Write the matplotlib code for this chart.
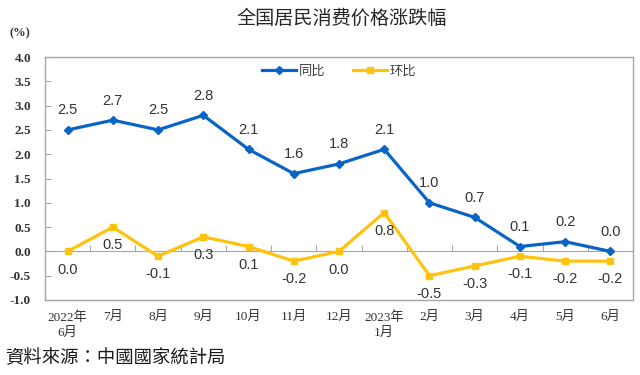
import numpy as np
import matplotlib.pyplot as plt

plt.rcParams['font.family'] = ['Liberation Sans', 'Noto Sans CJK SC', 'DejaVu Sans']

# data
months = ['2022年\n6月', '7月', '8月', '9月', '10月', '11月', '12月',
          '2023年\n1月', '2月', '3月', '4月', '5月', '6月']
yoy = [2.5, 2.7, 2.5, 2.8, 2.1, 1.6, 1.8, 2.1, 1.0, 0.7, 0.1, 0.2, 0.0]
mom = [0.0, 0.5, -0.1, 0.3, 0.1, -0.2, 0.0, 0.8, -0.5, -0.3, -0.1, -0.2, -0.2]
yticks = [-1.0, -0.5, 0.0, 0.5, 1.0, 1.5, 2.0, 2.5, 3.0, 3.5, 4.0]

blue = '#0A64C8'
yellow = '#FFC20E'
spine_c = '#A6A6A6'
txt_c = '#333333'

fig = plt.figure(figsize=(6.4, 3.75), dpi=100)
ax = fig.add_axes([45/640, 1 - 300/375, 588/640, 243/375])
x = np.arange(len(months))

ax.plot(x, yoy, color=blue, lw=2.3, marker='D', ms=4.5, label='同比', zorder=3)
ax.plot(x, mom, color=yellow, lw=2.3, marker='s', ms=4.5, label='环比', zorder=3)

for xi, v in zip(x, yoy):
    ax.annotate(f'{v:.1f}', (xi, v), xytext=(0, 9), textcoords='offset points',
                ha='center', va='bottom', fontsize=10.5, color=txt_c)
for xi, v in zip(x, mom):
    ax.annotate(f'{v:.1f}', (xi, v), xytext=(0, -8), textcoords='offset points',
                ha='center', va='top', fontsize=10.5, color=txt_c)

ax.set_xlim(-0.5, len(months) - 0.5)
ax.set_ylim(-1.0, 4.0)
ax.set_yticks(yticks)
ax.set_yticklabels([f'{t:.1f}' for t in yticks], family='Liberation Serif',
                   fontweight='bold', fontsize=9.5, color=txt_c)
ax.tick_params(axis='y', direction='in', length=4, color=spine_c, pad=10)

ax.set_xticks(x)
ax.set_xticklabels(months, family=['Liberation Serif', 'Noto Sans CJK SC'],
                   fontsize=9.5, color=txt_c, linespacing=1.3)
ax.tick_params(axis='x', length=0, pad=8)

for s in ax.spines.values():
    s.set_color(spine_c)
    s.set_linewidth(1.0)

# category axis crossing at zero
zax = ax.secondary_xaxis(0.2)
zax.set_xticks(np.arange(len(months) + 1) - 0.5)
zax.set_xticklabels([])
zax.tick_params(direction='in', length=4, color=spine_c)
zax.spines['bottom'].set_color(spine_c)

ax.legend(loc='center', bbox_to_anchor=(0.5, 0.94), ncol=2, frameon=False,
          handlelength=2.6, columnspacing=2.1, handletextpad=0.2,
          prop={'family': 'Noto Sans CJK SC', 'size': 9.5}, labelcolor='#404040')

fig.text(342/640, 1 - 18/375, '全国居民消费价格涨跌幅', ha='center', va='center',
         fontsize=13.8, family='Noto Sans CJK SC', fontweight='medium', color='#262626')
fig.text(20/640, 1 - 33/375, '(%)', ha='center', va='center', fontsize=9,
         family='Liberation Serif', fontweight='bold', color=txt_c)
fig.text(5/640, 1 - 358/375, '資料來源：中國國家統計局', ha='left', va='center',
         fontsize=13.2, family='Noto Sans CJK TC', color='#1a1a1a')

fig.savefig('out.png', dpi=100)
